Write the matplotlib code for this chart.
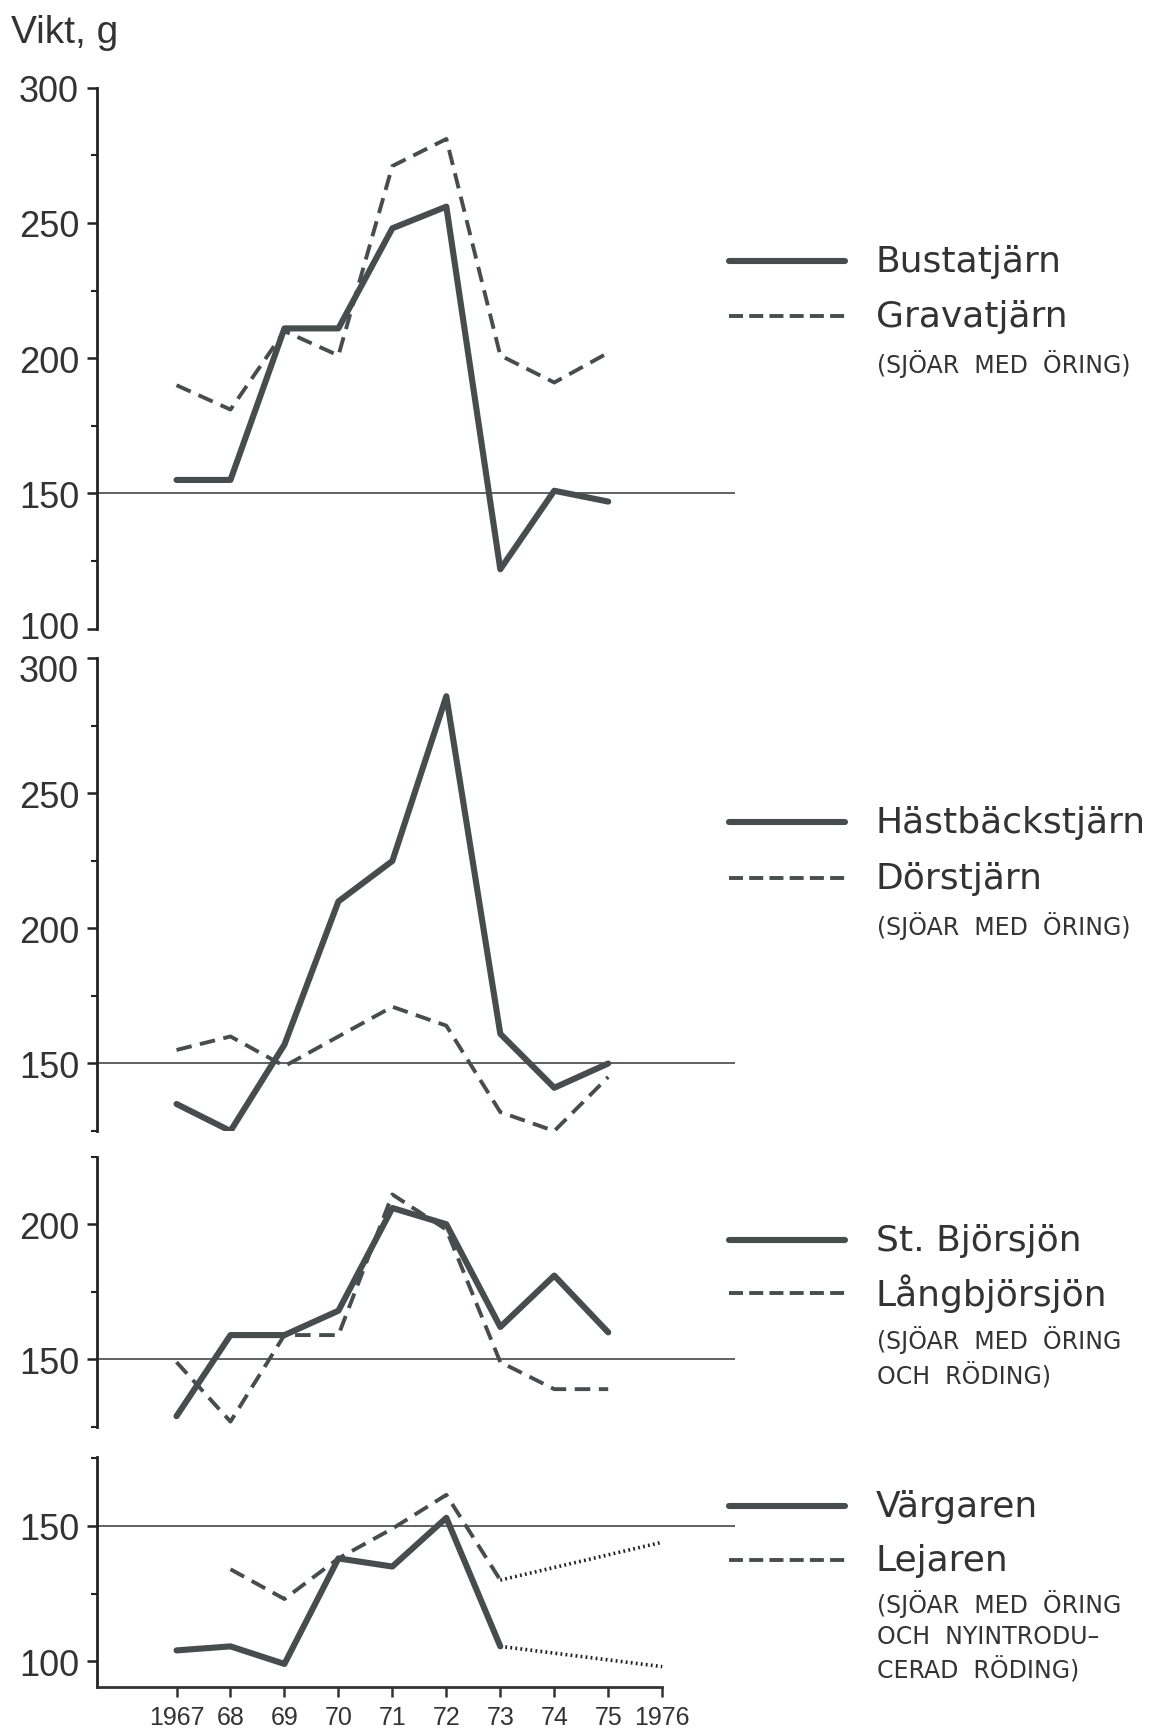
import matplotlib
matplotlib.use("Agg")
import matplotlib.pyplot as plt
from matplotlib.lines import Line2D
from matplotlib.transforms import ScaledTranslation

# --- data ---
years = [1967, 1968, 1969, 1970, 1971, 1972, 1973, 1974, 1975]
bustatjarn = [155, 155, 211, 211, 248, 256, 122, 151, 147]
gravatjarn = [190, 181, 210, 201, 271, 281, 201, 191, 202]

hastbackstjarn = [135, 125, 157, 210, 225, 286, 161, 141, 150]
dorstjarn = [155, 160, 149, 160, 171, 164, 132, 125, 145]

st_bjorsjon = [129, 159, 159, 168, 206, 200, 162, 181, 160]
langbjorsjon = [149, 127, 159, 159, 211, 198, 149, 139, 139]

vargaren_years = [1967, 1968, 1969, 1970, 1971, 1972, 1973]
vargaren = [104, 105.5, 99, 138, 135, 153, 105.5]
lejaren_years = [1968, 1969, 1970, 1971, 1972, 1973]
lejaren = [134, 123, 138, 149, 161.5, 130]
# prognos / ofullständiga år (prickat)
dotted_years = [1973, 1976]
vargaren_dotted = [105.5, 98]
lejaren_dotted = [130, 144]

xtick_years = [1967, 1968, 1969, 1970, 1971, 1972, 1973, 1974, 1975, 1976]
xtick_labels = ["1967", "68", "69", "70", "71", "72", "73", "74", "75", "1976"]

INK = "#474d4d"
FONT = "Liberation Sans"
LEGFONT = "DejaVu Sans"

fig = plt.figure(figsize=(11.71, 17.33), dpi=100)
fig.patch.set_facecolor("white")

# (bottom, height, ylim, labelled ticks, minor ticks)
panels = [
    (0.6366, 0.3123, (100, 300), [100, 150, 200, 250, 300], [125, 175, 225, 275]),
    (0.3468, 0.2727, (125, 300), [150, 200, 250, 300], [125, 175, 225, 275]),
    (0.1760, 0.1560, (125, 225), [150, 200], [125, 175, 225]),
    (0.0260, 0.1327, (90.5, 175.5), [100, 150], [125, 175]),
]
series = [
    (years, bustatjarn, years, gravatjarn),
    (years, hastbackstjarn, years, dorstjarn),
    (years, st_bjorsjon, years, langbjorsjon),
    (vargaren_years, vargaren, lejaren_years, lejaren),
]

axes = []
for (bottom, height, ylim, major, minor), (xs, ys, xd, yd) in zip(panels, series):
    ax = fig.add_axes([0.083, bottom, 0.5447, height])
    ax.set_xlim(1965.53, 1977.35)
    ax.set_ylim(*ylim)
    ax.axhline(150, color="#555", lw=1.3, zorder=1)
    ax.plot(xs, ys, color=INK, lw=4.4, solid_capstyle="round", zorder=3)
    ax.plot(xd, yd, color=INK, lw=2.8, dashes=(4, 2.2), zorder=2)
    for s in ["top", "right", "bottom"]:
        ax.spines[s].set_visible(False)
    ax.spines["left"].set_linewidth(2)
    ax.spines["left"].set_color("#222")
    ax.set_yticks(major)
    ax.set_yticks(minor, minor=True)
    ax.set_yticklabels([str(v) for v in major], fontsize=26, family=FONT, color="#333")
    ax.tick_params(axis="y", which="major", length=7, width=1.8, colors="#222", pad=6)
    ax.tick_params(axis="y", which="minor", length=4, width=1.5, colors="#222")
    ax.tick_params(axis="y", labelcolor="#333")
    ax.set_xticks([])
    ax.patch.set_alpha(0)
    axes.append(ax)

# "100" och "300" vid panelgränsen ligger tätt; flytta isär lite (som i originalet)
for lab in axes[0].get_yticklabels():
    if lab.get_text() == "100":
        lab.set_transform(lab.get_transform() + ScaledTranslation(0, 0.04, fig.dpi_scale_trans))
for lab in axes[1].get_yticklabels():
    if lab.get_text() == "300":
        lab.set_transform(lab.get_transform() + ScaledTranslation(0, -0.09, fig.dpi_scale_trans))

# prickade linjer i nedersta panelen
ax4 = axes[3]
ax4.plot(dotted_years, vargaren_dotted, color="#222", lw=2.6, ls=(0, (0.5, 0.9)), zorder=2)
ax4.plot(dotted_years, lejaren_dotted, color="#222", lw=2.6, ls=(0, (0.5, 0.9)), zorder=2)
ax4.spines["bottom"].set_visible(True)
ax4.spines["bottom"].set_linewidth(2)
ax4.spines["bottom"].set_color("#333")
ax4.spines["bottom"].set_bounds(1965.53, 1976)
ax4.set_xticks(xtick_years)
ax4.set_xticklabels(xtick_labels, fontsize=18, family=FONT, color="#333")
ax4.tick_params(axis="x", length=7, width=1.8, colors="#333", pad=6)

fig.text(0.009, 0.981, "Vikt, g", fontsize=28, family=FONT, color="#333", va="center")

# --- legend blocks on the right ---
legends = [
    ("Bustatjärn", "Gravatjärn", ["(SJÖAR  MED  ÖRING)"], 262, 317, [364]),
    ("Hästbäckstjärn", "Dörstjärn", ["(SJÖAR  MED  ÖRING)"], 823, 879, [926]),
    ("St. Björsjön", "Långbjörsjön", ["(SJÖAR  MED  ÖRING", "OCH  RÖDING)"], 1241, 1294, [1340, 1376]),
    ("Värgaren", "Lejaren", ["(SJÖAR  MED  ÖRING", "OCH  NYINTRODU–", "CERAD  RÖDING)"], 1507, 1561, [1604, 1637, 1670]),
]
H = 1733.0
for solid, dashed, notes, ys, yd, yn in legends:
    fig.add_artist(Line2D([0.6225, 0.7216], [1 - ys / H] * 2, color=INK, lw=4.4,
                          solid_capstyle="round"))
    fig.add_artist(Line2D([0.6225, 0.7216], [1 - yd / H] * 2, color=INK, lw=2.8,
                          dashes=(3.6, 1.6)))
    fig.text(0.748, 1 - ys / H, solid, fontsize=26, family=LEGFONT, color="#333", va="center")
    fig.text(0.748, 1 - yd / H, dashed, fontsize=26, family=LEGFONT, color="#333", va="center")
    for note, y in zip(notes, yn):
        fig.text(0.749, 1 - y / H, note, fontsize=17, family=LEGFONT, color="#333", va="center")

fig.savefig("out.png", dpi=100, facecolor="white")
plt.close(fig)
